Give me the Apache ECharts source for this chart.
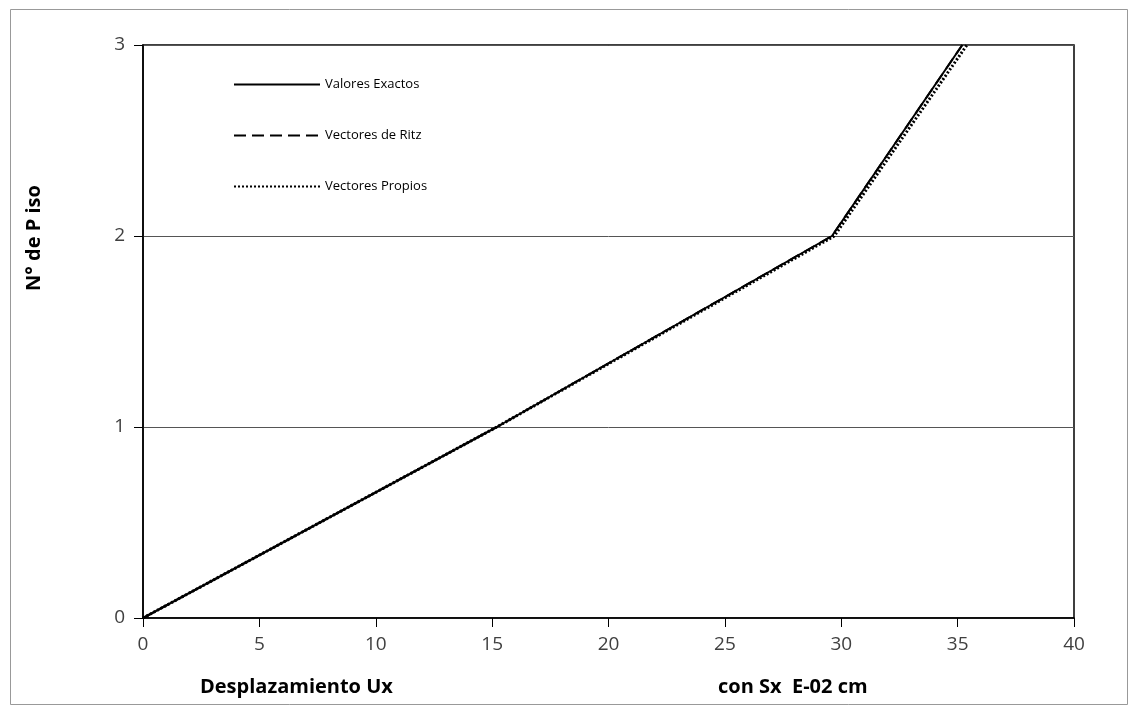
<!DOCTYPE html>
<html><head><meta charset="utf-8">
<script src="https://cdn.jsdelivr.net/npm/echarts@6/dist/echarts.min.js"></script>
<style>html,body{margin:0;padding:0;background:#fff}#c{width:1133px;height:707px}</style>
</head><body><div id="c"></div>
<script>
var floors = [0, 1, 2, 3];
var exactos = [0, 15.2, 29.6, 35.2];
var ritz = [0, 15.2, 29.6, 35.2];
var propios = [0, 15.2, 29.7, 35.4];
var xTicks = [0, 5, 10, 15, 20, 25, 30, 35, 40];
var yTicks = [0, 1, 2, 3];

function pairs(xs){ return xs.map(function(x,i){ return [x, floors[i]]; }); }
var font = "'Open Sans', 'Liberation Sans', sans-serif";
var chart = echarts.init(document.getElementById('c'), null, {renderer:'canvas'});
chart.setOption({
  animation:false,
  backgroundColor:'#fff',
  grid:{left:143, right:59, top:45, bottom:89, show:true, borderColor:'#000', borderWidth:1.5},
  xAxis:{type:'value', min:xTicks[0], max:xTicks[xTicks.length-1], interval:5,
    axisLine:{onZero:false, lineStyle:{color:'#000', width:1.5}},
    axisTick:{show:true, length:9, lineStyle:{color:'#000'}},
    axisLabel:{color:'#404040', fontSize:19, margin:17, fontFamily:font},
    splitLine:{show:false}},
  yAxis:{type:'value', min:yTicks[0], max:yTicks[yTicks.length-1], interval:1,
    axisLine:{onZero:false, lineStyle:{color:'#000', width:1.5}},
    axisTick:{show:true, length:9, lineStyle:{color:'#000'}},
    axisLabel:{color:'#404040', fontSize:19, margin:18, fontFamily:font},
    splitLine:{show:true, lineStyle:{color:'#555', width:1}}},
  legend:{orient:'vertical', left:228, top:73, itemGap:38, itemWidth:86, itemHeight:12,
    itemStyle:{opacity:0},
    textStyle:{fontSize:13, color:'#000', fontFamily:font},
    data:['Valores Exactos','Vectores de Ritz','Vectores Propios']},
  series:[
    {name:'Valores Exactos', type:'line', data:pairs(exactos), showSymbol:false, symbol:'none',
      lineStyle:{color:'#000', width:2, type:'solid'}, itemStyle:{color:'#000'}},
    {name:'Vectores de Ritz', type:'line', data:pairs(ritz), showSymbol:false, symbol:'none',
      lineStyle:{color:'#000', width:2, type:[12,6]}, itemStyle:{color:'#000'}},
    {name:'Vectores Propios', type:'line', data:pairs(propios), showSymbol:false, symbol:'none',
      lineStyle:{color:'#000', width:3, type:[2,2]}, itemStyle:{color:'#000'}}
  ],
  graphic:[
    {type:'rect', left:8, top:7, shape:{width:1117, height:695}, style:{fill:'none', stroke:'#999', lineWidth:1}, silent:true, z:-1},
    {type:'text', left:200, top:677, style:{text:'Desplazamiento Ux', font:'bold 20px '+font, fill:'#000'}},
    {type:'text', left:718, top:677, style:{text:'con Sx  E-02 cm', font:'bold 20px '+font, fill:'#000'}},
    {type:'text', x:24, y:238, rotation:Math.PI/2, style:{text:'N° de P iso', font:'bold 20px '+font, fill:'#000', align:'center', verticalAlign:'top'}}
  ]
});
</script></body></html>
